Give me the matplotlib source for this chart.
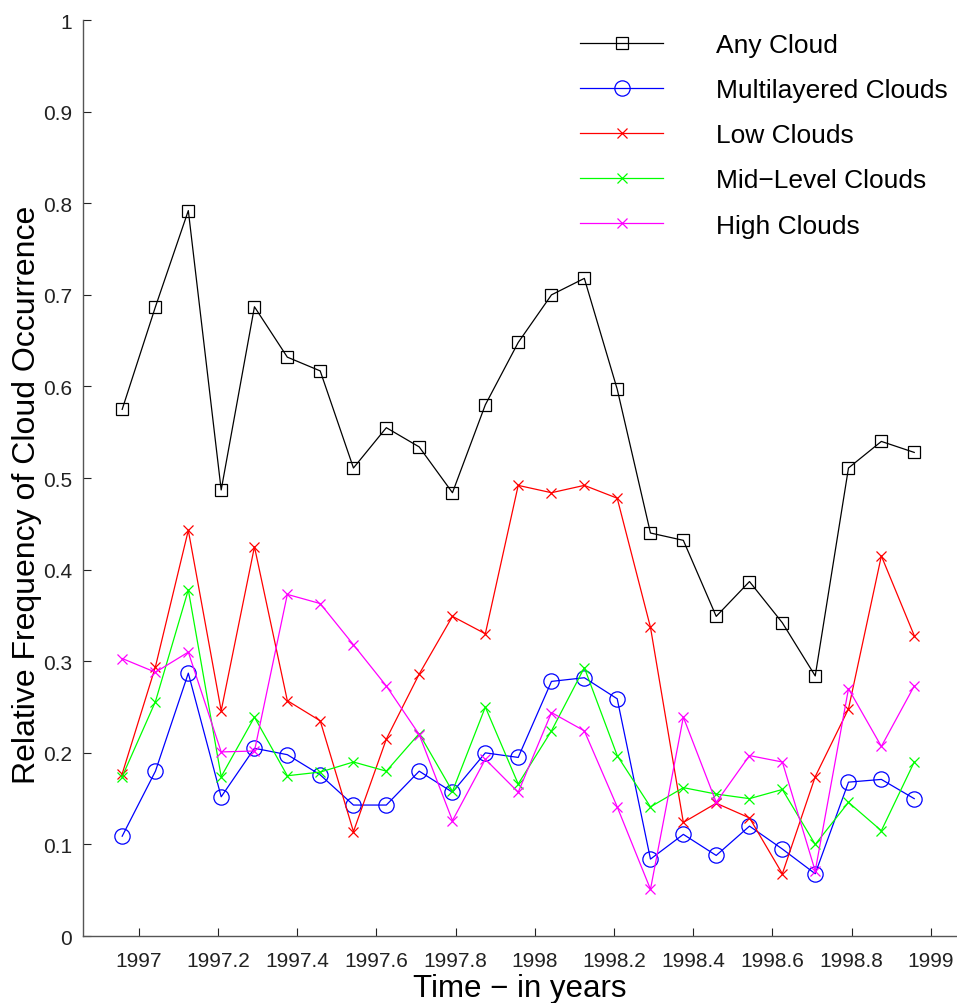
import matplotlib
matplotlib.use("Agg")
import matplotlib.pyplot as plt

# monthly samples (decimal years, mid-month)
years = [1996.958, 1997.042, 1997.125, 1997.208, 1997.292, 1997.375, 1997.458,
         1997.542, 1997.625, 1997.708, 1997.792, 1997.875, 1997.958, 1998.042,
         1998.125, 1998.208, 1998.292, 1998.375, 1998.458, 1998.542, 1998.625,
         1998.708, 1998.792, 1998.875, 1998.958]

any_cloud = [0.575, 0.687, 0.792, 0.487, 0.687, 0.632, 0.617, 0.511, 0.555,
             0.534, 0.484, 0.580, 0.648, 0.700, 0.718, 0.597, 0.440, 0.432,
             0.349, 0.387, 0.342, 0.284, 0.511, 0.540, 0.528]
multilayered = [0.109, 0.180, 0.287, 0.152, 0.205, 0.198, 0.176, 0.143, 0.143,
                0.180, 0.157, 0.200, 0.195, 0.278, 0.282, 0.259, 0.084, 0.111,
                0.088, 0.120, 0.095, 0.068, 0.168, 0.171, 0.150]
low = [0.177, 0.294, 0.443, 0.246, 0.425, 0.257, 0.235, 0.114, 0.215, 0.286,
       0.349, 0.330, 0.492, 0.484, 0.492, 0.478, 0.337, 0.124, 0.145, 0.129,
       0.068, 0.174, 0.248, 0.415, 0.328]
mid = [0.174, 0.256, 0.378, 0.174, 0.239, 0.175, 0.179, 0.190, 0.180, 0.221,
       0.158, 0.250, 0.166, 0.224, 0.293, 0.197, 0.141, 0.162, 0.155, 0.150,
       0.160, 0.100, 0.146, 0.115, 0.190]
high = [0.303, 0.288, 0.310, 0.201, 0.202, 0.373, 0.363, 0.318, 0.273, 0.220,
        0.126, 0.193, 0.157, 0.244, 0.224, 0.141, 0.051, 0.239, 0.146, 0.197,
        0.190, 0.071, 0.270, 0.207, 0.273]

x_ticks = [1997, 1997.2, 1997.4, 1997.6, 1997.8, 1998, 1998.2, 1998.4, 1998.6, 1998.8, 1999]
x_tick_labels = ["1997", "1997.2", "1997.4", "1997.6", "1997.8", "1998",
                 "1998.2", "1998.4", "1998.6", "1998.8", "1999"]
y_ticks = [0, 0.1, 0.2, 0.3, 0.4, 0.5, 0.6, 0.7, 0.8, 0.9, 1]
y_tick_labels = ["0", "0.1", "0.2", "0.3", "0.4", "0.5", "0.6", "0.7", "0.8", "0.9", "1"]

plt.rcParams["font.family"] = ["Liberation Sans", "DejaVu Sans"]

fig = plt.figure(figsize=(9.57, 10.04), dpi=100)
ax = fig.add_axes([0.0867, 0.0667, 0.9133, 0.9123])

series = [
    (any_cloud, "#000000", "s", 9, "Any Cloud"),
    (multilayered, "#0000ff", "o", 11, "Multilayered Clouds"),
    (low, "#ff0000", "x", 7, "Low Clouds"),
    (mid, "#00ff00", "x", 7, "Mid\u2212Level Clouds"),
    (high, "#ff00ff", "x", 7, "High Clouds"),
]
for vals, color, marker, ms, label in series:
    ax.plot(years, vals, color=color, marker=marker, markersize=ms,
            markerfacecolor="none", markeredgecolor=color, markeredgewidth=0.9,
            linewidth=0.9, label=label)

ax.set_xlim(1996.859, 1999.066)
ax.set_ylim(0, 1)
ax.set_xticks(x_ticks)
ax.set_xticklabels(x_tick_labels)
ax.set_yticks(y_ticks)
ax.set_yticklabels(y_tick_labels)
ax.tick_params(direction="in", length=6, width=0.8, labelsize=15, pad=8,
               colors="#222222")
ax.tick_params(axis="x", pad=11)

for side in ["top", "right"]:
    ax.spines[side].set_visible(False)
for side in ["left", "bottom"]:
    ax.spines[side].set_color("#555555")
    ax.spines[side].set_linewidth(1.0)

ax.set_xlabel("Time \u2212 in years", fontsize=22.5, labelpad=2)
ax.set_ylabel("Relative Frequency of Cloud Occurrence", fontsize=23)
ax.yaxis.set_label_coords(-0.047, 0.4825)

ax.legend(loc="upper left", bbox_to_anchor=(0.606, 0.966),
          bbox_transform=fig.transFigure, frameon=False, fontsize=19,
          numpoints=1, handlelength=3.15, handletextpad=2.0,
          labelspacing=0.8, borderpad=0, borderaxespad=0)

fig.savefig("out.png", dpi=100)
